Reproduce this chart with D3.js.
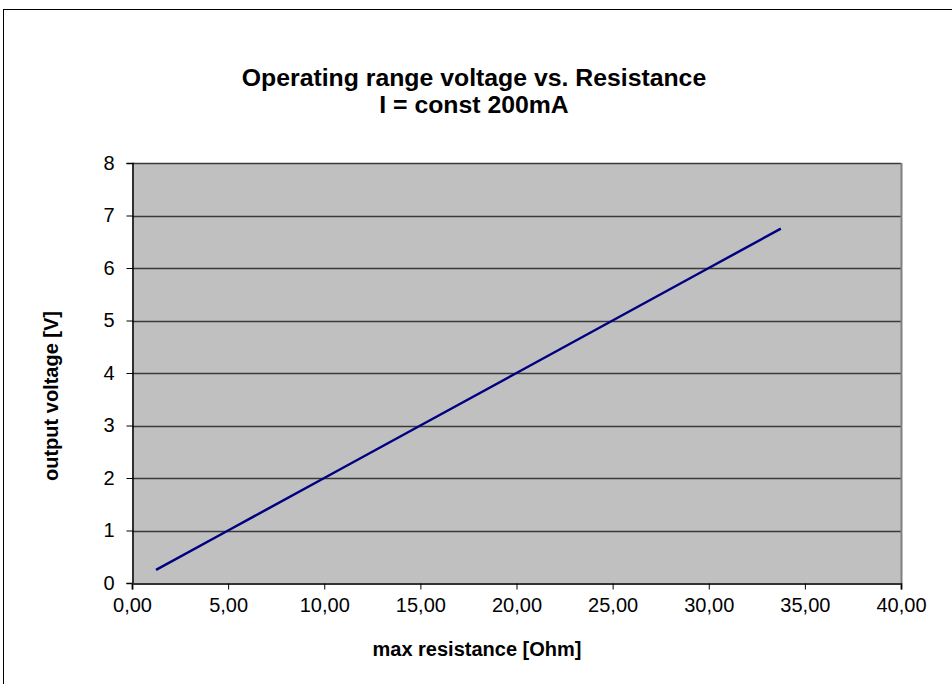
<!DOCTYPE html>
<html>
<head>
<meta charset="utf-8">
<script src="https://cdn.jsdelivr.net/npm/d3@7"></script>
<style>
  html, body { margin: 0; padding: 0; background: #fff; }
  svg { display: block; font-family: "Liberation Sans", Arial, sans-serif; }
</style>
</head>
<body>
<svg id="chart" width="952" height="684"></svg>
<script>
// values (V = 0.2 A * R)
const resistance = [1.25, 5, 10, 15, 20, 25, 30, 33.75];
const voltage = [0.25, 1, 2, 3, 4, 5, 6, 6.75];
const xTicks = [0, 5, 10, 15, 20, 25, 30, 35, 40];
const yTicks = [0, 1, 2, 3, 4, 5, 6, 7, 8];
const titleLines = ['Operating range voltage vs. Resistance', 'I = const 200mA'];

const svg = d3.select('#chart');
const plotLeft = 132, plotRight = 901, plotTop = 163, plotBottom = 583;

// outer frame
svg.append('rect')
  .attr('x', 3.5).attr('y', 9.5)
  .attr('width', 960).attr('height', 700)
  .attr('fill', 'none').attr('stroke', '#000').attr('stroke-width', 1);

const x = d3.scaleLinear().domain([0, 40]).range([plotLeft, plotRight]);
const y = d3.scaleLinear().domain([0, 8]).range([plotBottom, plotTop]);

// plot area
svg.append('rect')
  .attr('x', plotLeft).attr('y', plotTop)
  .attr('width', plotRight - plotLeft).attr('height', plotBottom - plotTop)
  .attr('fill', '#c0c0c0');

// gridlines
svg.append('g')
  .selectAll('line')
  .data(yTicks.filter(d => d > 0))
  .join('line')
  .attr('x1', plotLeft).attr('x2', plotRight)
  .attr('y1', d => Math.round(y(d)) + 0.5)
  .attr('y2', d => Math.round(y(d)) + 0.5)
  .attr('stroke', '#3a3a3a').attr('stroke-width', 1.3);

// right border
svg.append('line')
  .attr('x1', plotRight + 0.5).attr('x2', plotRight + 0.5)
  .attr('y1', plotTop).attr('y2', plotBottom)
  .attr('stroke', '#808080').attr('stroke-width', 2);

// axes
const yAxis = svg.append('g')
  .attr('transform', `translate(${plotLeft + 0.5},0)`)
  .call(d3.axisLeft(y).tickValues(yTicks).tickSize(6).tickPadding(12).tickFormat(d3.format('d')));
const xAxis = svg.append('g')
  .attr('transform', `translate(0,${plotBottom + 0.5})`)
  .call(d3.axisBottom(x).tickValues(xTicks).tickSize(6).tickPadding(8)
    .tickFormat(d => d3.format('.2f')(d).replace('.', ',')));

[xAxis, yAxis].forEach(a => {
  a.attr('font-size', null);
  a.select('.domain').attr('stroke', '#000').attr('stroke-width', 1.5);
  a.selectAll('.tick line').attr('stroke', '#000');
  a.selectAll('.tick text')
    .attr('fill', '#000')
    .style('font-family', '"Liberation Sans", Arial, sans-serif')
    .style('font-size', '20px');
});
xAxis.select('.domain').attr('stroke', '#333').attr('stroke-width', 2);

// series line
const line = d3.line()
  .x((d, i) => x(resistance[i]))
  .y(d => y(d));
svg.append('path')
  .datum(voltage)
  .attr('d', line)
  .attr('fill', 'none')
  .attr('stroke', '#000080')
  .attr('stroke-width', 2.5);

// title
svg.append('g')
  .selectAll('text')
  .data(titleLines)
  .join('text')
  .attr('x', 474)
  .attr('y', (d, i) => 86 + i * 27)
  .attr('text-anchor', 'middle')
  .style('font-size', '24.8px')
  .style('font-weight', 'bold')
  .text(d => d);

// axis titles
svg.append('text')
  .attr('x', 477).attr('y', 656)
  .attr('text-anchor', 'middle')
  .style('font-size', '20px').style('font-weight', 'bold')
  .text('max resistance [Ohm]');

svg.append('text')
  .attr('transform', 'translate(58,396) rotate(-90)')
  .attr('text-anchor', 'middle')
  .style('font-size', '20px').style('font-weight', 'bold')
  .text('output voltage [V]');
</script>
</body>
</html>
